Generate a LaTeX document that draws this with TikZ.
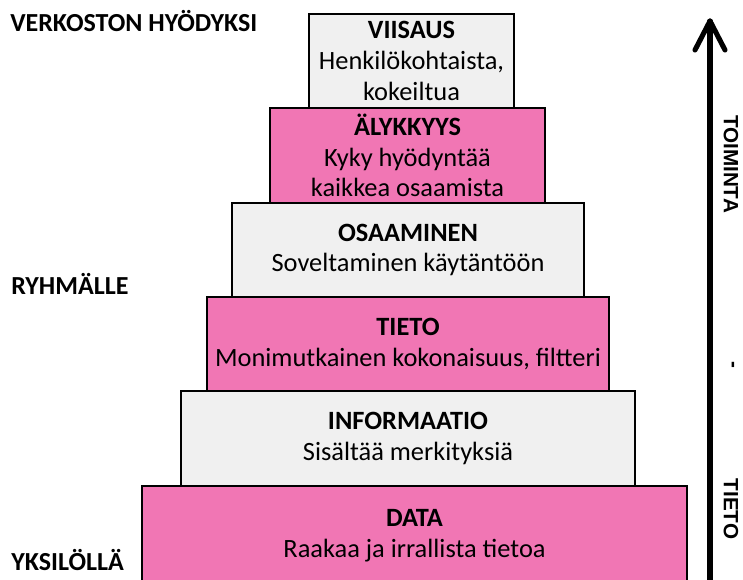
\documentclass[tikz,border=0pt]{standalone}
\usepackage{fontspec}
\setmainfont{Carlito}
\newfontfamily\axisfont{Liberation Sans}

\begin{document}
\begin{tikzpicture}[x=0.75pt,y=-0.75pt]
  \definecolor{pyrpink}{RGB}{241,118,180}
  \definecolor{pyrgrey}{RGB}{240,240,240}
  \tikzset{layer/.style={draw=black,line width=1.4pt,align=center,inner sep=0pt,
             font=\fontsize{19.8}{23}\selectfont},
           side/.style={anchor=west,inner sep=0pt,font=\fontsize{19.5}{22}\selectfont\bfseries},
           axis/.style={rotate=-90,inner sep=0pt,font=\axisfont\fontsize{15.5}{18}\selectfont\bfseries},
           axisline/.style={line width=3.8pt,line cap=round,line join=round}}
  \useasboundingbox (0,0) rectangle (743,579);
  % pyramid, top layer first
  \foreach[count=\n] \xa/\xb/\ya/\yb/\fc/\txt in {
      309/514/14/108/pyrgrey/{\textbf{VIISAUS}\\Henkilökohtaista,\\kokeiltua},
      270/545/108/203/pyrpink/{\textbf{ÄLYKKYYS}\\Kyky hyödyntää\\kaikkea osaamista},
      232/584/203/297/pyrgrey/{\textbf{OSAAMINEN}\\Soveltaminen käytäntöön},
      207/609/297/391/pyrpink/{\textbf{TIETO}\\Monimutkainen kokonaisuus, filtteri},
      181/635/391/486/pyrgrey/{\textbf{INFORMAATIO}\\Sisältää merkityksiä},
      142/687/486/586/pyrpink/{\textbf{DATA}\\Raakaa ja irrallista tietoa}}
    \node[layer,fill=\fc,minimum width={(\xb-\xa)*0.75pt},minimum height={(\yb-\ya)*0.75pt}]
      (l\n) at ({(\xa+\xb)/2},{(\ya+\yb)/2}) {\txt};
  % left side labels
  \node[side] (verkosto) at (10,21) {VERKOSTON HYÖDYKSI};
  \node[side] (ryhma) at (11,284) {RYHMÄLLE};
  \node[side] (yksilo) at (11,560) {YKSILÖLLÄ};
  % axis with an open arrow head
  \coordinate (abot) at (710,590);
  \coordinate (atop) at (710,21);
  \draw[axisline] (abot) -- (atop);
  \draw[axisline] ([shift={(-15,29)}]atop) -- (atop) -- ([shift={(15,29)}]atop);
  \node[axis] (toiminta) at (731,164) {TOIMINTA};
  \node[axis] (viiva) at (731,365) {-};
  \node[axis] (tieto) at (731,509) {TIETO};
\end{tikzpicture}
\end{document}
